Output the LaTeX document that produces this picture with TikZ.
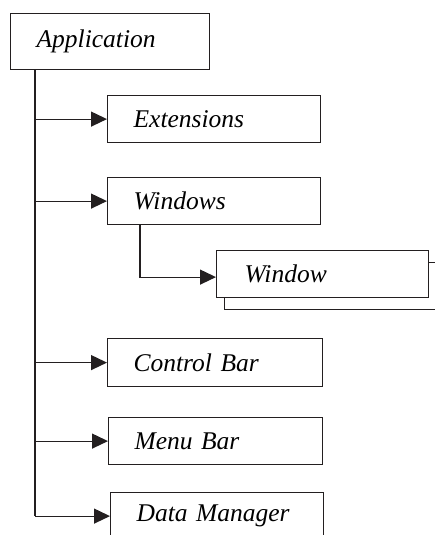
\documentclass[tikz,border=0pt]{standalone}
\usepackage{fontspec}
\setmainfont{Liberation Serif}
\usetikzlibrary{arrows.meta}
\definecolor{lineclr}{RGB}{35,31,32}

\begin{document}
\begin{tikzpicture}[x=1pt,y=-1pt,
	box/.style={draw=lineclr,line width=1.2pt,fill=white,anchor=north west,
		minimum height=47pt,inner xsep=26pt,inner ysep=0pt,align=left,
		font=\fontsize{25.5}{30}\selectfont\itshape},
	arr/.style={draw=lineclr,line width=1.2pt,-{Triangle[length=16pt,width=15pt]}},
	link/.style={draw=lineclr,line width=1.2pt}]
\useasboundingbox (0,0) rectangle (435,535);
\node[box,minimum height=56pt,text width=147pt] (app) at (10,13) {Application};
\node[box,text width=161pt] (ext) at (107,95) {Extensions};
\node[box,text width=161pt] (win) at (107,177) {Windows};
% window stack
\node[box,text width=164pt] (wndback) at (224,262) {};
\node[box,inner xsep=28pt,text width=156pt] (wnd) at (216,250) {Window};
\node[box,minimum height=48pt,text width=163pt] (ctrl) at (107,338) {Control Bar};
\node[box,text width=162pt] (menu) at (108,417) {Menu Bar};
\node[box,text width=161pt] (data) at (110,492) {Data Manager};
% connectors
\coordinate (t0) at ([xshift=25pt]app.south west);
\draw[link] (t0) -- (t0 |- data.west);
\foreach \n in {ext,win,ctrl,menu,data}
	\draw[arr] (t0 |- \n.west) -- (\n.west);
\coordinate (t1) at ([xshift=33pt]win.south west);
\draw[arr] (t1) |- ([yshift=-3pt]wnd.west);
\end{tikzpicture}
\end{document}
